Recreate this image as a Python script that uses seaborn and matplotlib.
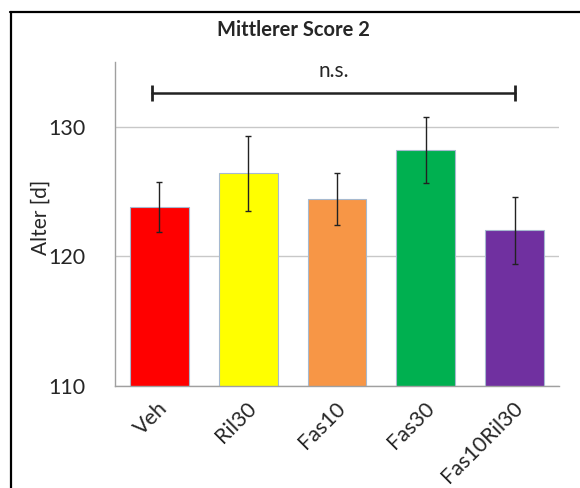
import matplotlib
matplotlib.use("Agg")
import matplotlib.pyplot as plt
from matplotlib.lines import Line2D
import numpy as np
import pandas as pd
import seaborn as sns

# Group means and error bars (age in days)
groups = ["Veh", "Ril30", "Fas10", "Fas30", "Fas10Ril30"]
means = [123.8, 126.4, 124.4, 128.2, 122.0]
errors = [1.95, 2.9, 2.0, 2.55, 2.55]
colors = ["#FF0000", "#FFFF00", "#F79646", "#00B050", "#7030A0"]
y_ticks = [110, 120, 130]

title = "Mittlerer Score 2"
y_label = "Alter [d]"
sig_label = "n.s."

sns.set_style("white")
plt.rcParams["font.family"] = ["Lato", "DejaVu Sans"]

df = pd.DataFrame({"group": groups, "mean": means, "err": errors})

fig = plt.figure(figsize=(5.8, 4.88), dpi=100)
ax = fig.add_axes([115 / 580, 1 - 386 / 488, 444 / 580, 324 / 488])

sns.barplot(data=df, x="group", y="mean", hue="group", palette=colors,
            order=groups, hue_order=groups, legend=False, errorbar=None,
            saturation=1, width=0.66, edgecolor="#A6B9CF", linewidth=0.8,
            ax=ax, zorder=2)

ax.errorbar(np.arange(len(groups)), df["mean"], yerr=df["err"], fmt="none",
            ecolor="#222222", elinewidth=1.0, capsize=1.9, capthick=1.0, zorder=3)

ax.set_ylim(110, 135)
ax.set_xlim(-0.5, len(groups) - 0.5)
ax.set_yticks(y_ticks)
ax.set_yticklabels([str(t) for t in y_ticks], fontsize=15.5)
ax.yaxis.grid(True, color="#C8C8C8", linewidth=1.0, zorder=0)
ax.set_axisbelow(True)

# Category boundary ticks on the x axis
ax.set_xticks(np.arange(-0.5, len(groups) + 0.5, 1.0), minor=False)
ax.set_xticklabels([])
ax.tick_params(axis="x", which="major", direction="out", length=6,
               color="#A0A0A0", width=1)
ax.tick_params(axis="y", which="major", direction="out", length=8,
               color="#C8C8C8", width=1, pad=13)
for i, g in enumerate(groups):
    ax.annotate(g, xy=(i, 110), xycoords="data", xytext=(5, -19),
                textcoords="offset pixels", rotation=45, ha="right",
                va="center", rotation_mode="anchor", fontsize=15.5)

for side in ["top", "right"]:
    ax.spines[side].set_visible(False)
ax.spines["left"].set_color("#A0A0A0")
ax.spines["bottom"].set_color("#A0A0A0")
ax.spines["left"].set_linewidth(1)
ax.spines["bottom"].set_linewidth(1)

ax.set_xlabel("")
ax.set_ylabel(y_label, fontsize=15)
ax.yaxis.set_label_coords(-0.146, 0.52)

# Significance bracket across all groups
bx0, bx1, by = -0.08, 4.0, 132.6
ax.plot([bx0, bx1], [by, by], color="#222222", linewidth=1.8, clip_on=False)
ax.vlines([bx0, bx1], by - 0.6, by + 0.6, color="#222222", linewidth=2,
          clip_on=False)
ax.text((bx0 + bx1) / 2, by + 0.9, sig_label, ha="center", va="bottom",
        fontsize=15)

fig.text(293 / 580, 1 - 30 / 488, title, ha="center", va="center",
         fontsize=14.5, fontweight="bold")

# Frame around the chart area
fig.add_artist(Line2D([10.7 / 580, 10.7 / 580], [0, 1 - 12 / 488],
                      transform=fig.transFigure, color="black", linewidth=1.6))
fig.add_artist(Line2D([10 / 580, 1], [1 - 12 / 488, 1 - 12 / 488],
                      transform=fig.transFigure, color="black", linewidth=1.6))

fig.savefig("out.png", dpi=100, facecolor="white")
